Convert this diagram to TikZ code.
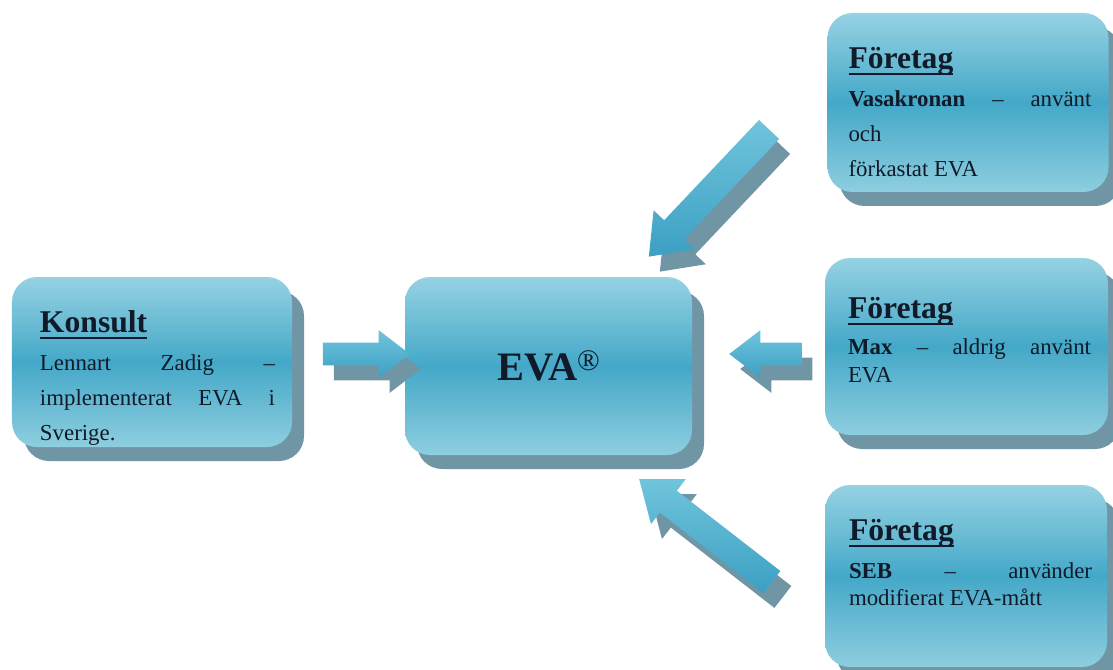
\documentclass[tikz,border=0pt]{standalone}
\usepackage{fontspec}
\setmainfont{Liberation Serif}
\usepackage{tikz}
\usetikzlibrary{shapes.arrows,shadows,positioning}
\definecolor{boxtop}{RGB}{150,210,227}
\definecolor{boxmid}{RGB}{68,168,200}
\definecolor{boxbot}{RGB}{142,206,223}
\definecolor{arrowtop}{RGB}{112,196,220}
\definecolor{arrowbot}{RGB}{60,160,195}
\definecolor{shadowblue}{RGB}{112,150,166}
\definecolor{inkblue}{RGB}{16,26,40}
\newsavebox\titlebox
\newcommand\thickul[1]{\sbox\titlebox{#1}\rlap{\rule[-3.6pt]{\wd\titlebox}{1.1pt}}\usebox\titlebox}
\newcommand\boxtitle[2][2.2pt]{{\fontsize{18}{21}\selectfont\bfseries\thickul{#2}\vphantom{Ö}\par}\vspace{#1}}

\begin{document}
\begin{tikzpicture}[
  infobox/.style={rounded corners=0.5cm, top color=boxtop, bottom color=boxbot, middle color=boxmid,
    minimum width=5.62cm, minimum height=3.56cm, inner sep=0pt, text=inkblue,
    drop shadow={shadow xshift=0.24cm, shadow yshift=-0.28cm, fill=shadowblue, opacity=1}},
  infotext/.style={anchor=north west, inner sep=0pt, text width=4.86cm, align=justify, text=inkblue,
    font=\fontsize{13}{19.8}\selectfont},
  flowarrow/.style={single arrow, inner xsep=0pt, inner ysep=0.22cm, minimum width=0pt,
    single arrow head extend=0.25cm, single arrow tip angle=75, top color=arrowtop, bottom color=arrowbot,
    drop shadow={shadow xshift=0.22cm, shadow yshift=-0.3cm, fill=shadowblue, opacity=1}},
  slantarrow/.style={flowarrow, inner ysep=0.27cm, single arrow head extend=0.29cm}
]
\useasboundingbox (0,0) rectangle (22.26,-13.4);
% Boxes
\node[infobox, minimum width=5.6cm, minimum height=3.4cm] (kons) at (3.04,-7.24) {};
\node[infobox, minimum width=5.74cm, minimum height=3.56cm, font=\fontsize{23}{26}\selectfont\bfseries] (eva) at (10.97,-7.32)
  {EVA\raisebox{6pt}{\fontsize{17}{17}\selectfont\mdseries ®}};
\node[infobox, minimum height=3.58cm] (topco) at (19.36,-2.05) {};
\node[infobox, minimum width=5.66cm, minimum height=3.54cm] (midco) at (19.33,-6.93) {};
\node[infobox, minimum width=5.64cm, minimum height=3.64cm] (botco) at (19.32,-11.52) {};
% Texts in the boxes
\node[infotext, text width=4.7cm] (konstxt) at ([shift={(0.56,-0.58)}]kons.north west)
  {\boxtitle{Konsult}Lennart Zadig --\linebreak implementerat EVA i\linebreak Sverige.};
\node[infotext] (toptxt) at ([shift={(0.42,-0.58)}]topco.north west)
  {\boxtitle{Företag}\textbf{Vasakronan} -- använt\linebreak och\\ förkastat EVA};
\node[infotext, font=\fontsize{13}{16.4}\selectfont] (midtxt) at ([shift={(0.46,-0.68)}]midco.north west)
  {\boxtitle[4pt]{Företag}\textbf{Max} -- aldrig använt\linebreak EVA};
\node[infotext, font=\fontsize{13}{15.3}\selectfont] (bottxt) at ([shift={(0.48,-0.58)}]botco.north west)
  {\boxtitle[6.5pt]{Företag}\textbf{SEB} -- använder\linebreak modifierat EVA-mått};
% Block arrows towards EVA
\node[flowarrow, minimum height=1.74cm] (arrkons) at ([shift={(1.33,0.16)}]kons.east) {};
\node[flowarrow, minimum height=1.44cm, rotate=180] (arrmid) at ([shift={(-1.04,-0.15)}]midco.west) {};
\node[slantarrow, minimum height=3.5cm, rotate=226.6] (arrtop) at ([shift={(-2.24,-1.68)}]topco.west) {};
\node[slantarrow, minimum height=3.36cm, rotate=142.2] (arrbot) at ([shift={(-2.24,0.8)}]botco.west) {};
\end{tikzpicture}
\end{document}
